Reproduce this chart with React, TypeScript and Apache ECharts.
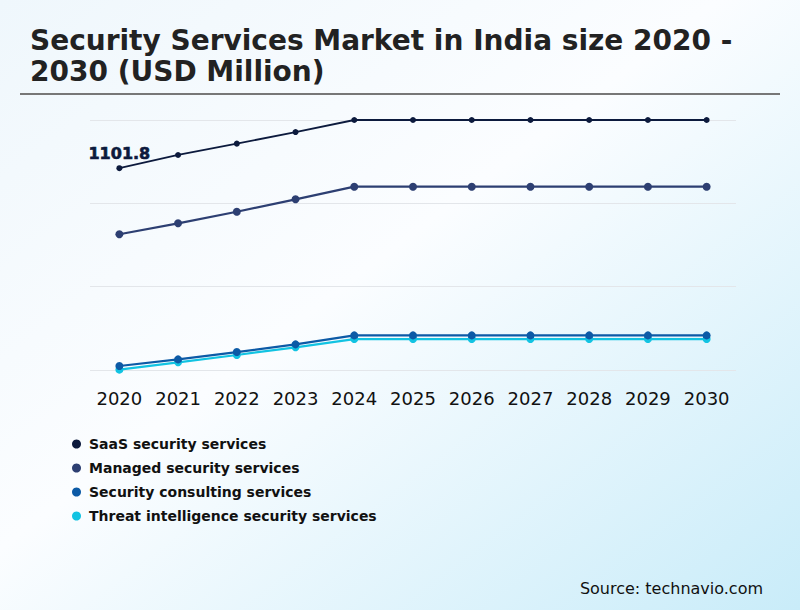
import { useEffect, useRef } from "react";
import * as echarts from "echarts";

const years = ["2020", "2021", "2022", "2023", "2024", "2025", "2026", "2027", "2028", "2029", "2030"];

const saas = [1101.8, 1174, 1236, 1299, 1365, 1365, 1365, 1365, 1365, 1365, 1365];
const managed = [741, 801, 864, 932, 1001, 1001, 1001, 1001, 1001, 1001, 1001];
const consulting = [22, 58, 98, 140, 189, 189, 189, 189, 189, 189, 189];
const threat = [2, 42, 82, 124, 169, 169, 169, 169, 169, 169, 169];

const seriesNames = [
  "SaaS security services",
  "Managed security services",
  "Security consulting services",
  "Threat intelligence security services",
];
const seriesColors = ["#0c1a3d", "#2d3f72", "#0c5aa6", "#12c3e2"];

const FONT = "DejaVu Sans";

export default function App() {
  const chartRef = useRef<HTMLDivElement>(null);

  useEffect(() => {
    if (!chartRef.current) return;
    const chart = echarts.init(chartRef.current, undefined, { renderer: "svg" });

    const values = [saas, managed, consulting, threat];

    const option: echarts.EChartsOption = {
      animation: false,
      backgroundColor: new echarts.graphic.LinearGradient(0, 0, 1, 1, [
        { offset: 0, color: "#eff7fc" },
        { offset: 0.45, color: "#fbfdff" },
        { offset: 1, color: "#c9ecf9" },
      ]),
      title: {
        text: "Security Services Market in India size 2020 -\n2030 (USD Million)",
        left: 25,
        top: 20,
        textStyle: {
          fontFamily: FONT,
          fontWeight: "bold",
          fontSize: 28,
          lineHeight: 31,
          color: "#222222",
        },
      },
      graphic: [
        {
          type: "line",
          shape: { x1: 20, y1: 94, x2: 780, y2: 94 },
          style: { stroke: "#777777", lineWidth: 2 },
        },
        {
          type: "text",
          right: 37,
          top: 580,
          style: {
            text: "Source: technavio.com",
            fontFamily: FONT,
            fontSize: 16,
            fill: "#111111",
          },
        },
      ],
      legend: {
        orient: "vertical",
        left: 67,
        top: 432,
        icon: "circle",
        itemWidth: 9,
        itemHeight: 9,
        itemGap: 10,
        data: seriesNames,
        textStyle: {
          fontFamily: FONT,
          fontWeight: "bold",
          fontSize: 14,
          color: "#111111",
          padding: [0, 0, 0, 3],
        },
      },
      grid: { left: 90, right: 64, top: 120, bottom: 240 },
      xAxis: {
        type: "category",
        data: years,
        boundaryGap: true,
        axisLine: { show: false },
        axisTick: { show: false },
        axisLabel: {
          interval: 0,
          fontFamily: FONT,
          fontSize: 18,
          color: "#111111",
          margin: 19,
        },
      },
      yAxis: {
        type: "value",
        min: 0,
        max: 1365,
        interval: 455,
        axisLabel: { show: false },
        axisLine: { show: false },
        axisTick: { show: false },
        splitLine: { lineStyle: { color: "#e3e6ea", width: 1 } },
      },
      series: values.map((data, i) => ({
        name: seriesNames[i],
        type: "line",
        data:
          i === 0
            ? data.map((v, j) =>
                j === 0
                  ? {
                      value: v,
                      label: {
                        show: true,
                        position: "top",
                        distance: 4,
                        fontFamily: FONT,
                        fontWeight: "bold",
                        fontSize: 16,
                        color: "#0c1a3d",
                        textBorderColor: "#0c1a3d",
                        textBorderWidth: 0.6,
                        formatter: "{c}",
                      },
                    }
                  : v
              )
            : data,
        symbol: "circle",
        symbolSize: i === 0 ? 6 : 8,
        lineStyle: { color: seriesColors[i], width: i === 0 ? 1.8 : 2.2 },
        itemStyle: { color: seriesColors[i] },
        z: 10 - i,
      })) as any,
    };

    chart.setOption(option);
    return () => chart.dispose();
  }, []);

  return (
    <div
      ref={chartRef}
      style={{ position: "fixed", left: 0, top: 0, width: 800, height: 610 }}
    />
  );
}
